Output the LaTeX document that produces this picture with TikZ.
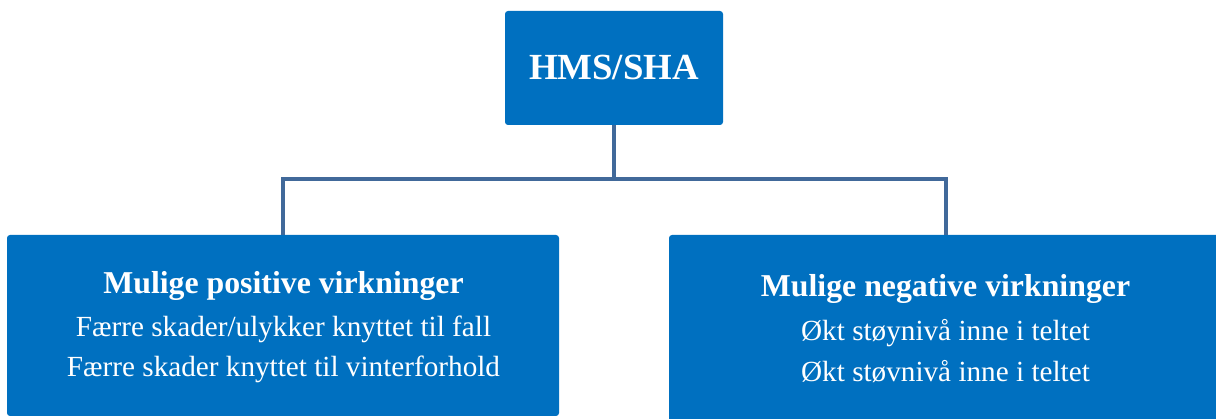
\documentclass[tikz,border=0pt]{standalone}
\usepackage{fontspec}
\setmainfont{Liberation Serif}
\definecolor{boxblue}{HTML}{0070C0}
\definecolor{linkblue}{HTML}{41699A}
\begin{document}
\begin{tikzpicture}[x=1pt,y=-1pt,
  bluebox/.style={fill=boxblue, draw=none, rounded corners=3pt, inner sep=0pt},
  headtxt/.style={text=white, font=\bfseries\fontsize{31.8}{36}\selectfont, anchor=base, inner sep=0pt},
  bodytxt/.style={text=white, font=\fontsize{29.2}{34}\selectfont, anchor=base, inner sep=0pt},
  link/.style={draw=linkblue, line width=4pt}]
\useasboundingbox (0,0) rectangle (1216,419);
\begin{scope}
\clip (0,0) rectangle (1216,419);
% boxes
\node[bluebox, minimum width=218pt, minimum height=114pt] (top) at (614,68) {};
\node[bluebox, minimum width=552pt, minimum height=181pt] (lbox) at (283,325.5) {};
\node[bluebox, minimum width=554pt, minimum height=190pt] (rbox) at (946,330) {};
% connectors
\draw[link] (top.south) -- ++(0,54) coordinate (j);
\draw[link] (lbox.north) |- (j) -| (rbox.north);
\end{scope}
% texts
\node[text=white, font=\bfseries\fontsize{36.8}{42}\selectfont, anchor=base, inner sep=0pt] (toptxt) at (614,80) {HMS/SHA};
\node[headtxt] (lh) at (283.5,294) {Mulige positive virkninger};
\node[bodytxt] (l1) at (283.5,337) {Færre skader/ulykker knyttet til fall};
\node[bodytxt] (l2) at (283.5,377) {Færre skader knyttet til vinterforhold};
\node[headtxt] (rh) at (945.5,297) {Mulige negative virkninger};
\node[bodytxt] (r1) at (945.5,341) {Økt støynivå inne i teltet};
\node[bodytxt] (r2) at (945.5,382) {Økt støvnivå inne i teltet};
\end{tikzpicture}
\end{document}
